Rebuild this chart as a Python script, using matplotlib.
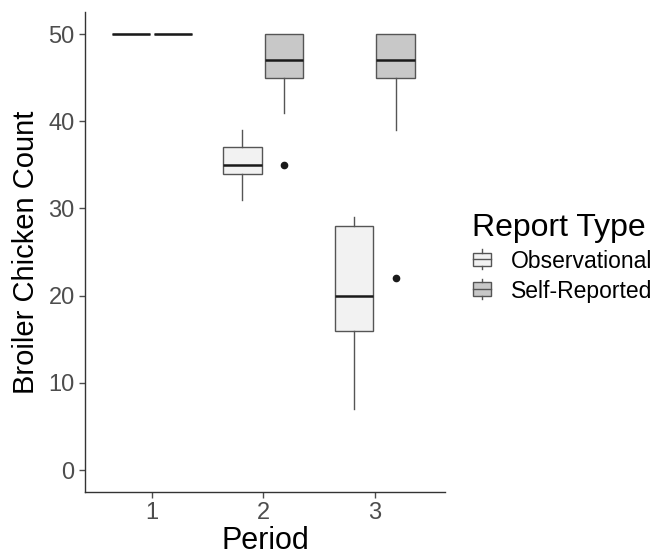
import matplotlib
matplotlib.use("Agg")
import matplotlib.pyplot as plt
from matplotlib.legend_handler import HandlerBase
from matplotlib.patches import Rectangle
from matplotlib.lines import Line2D

plt.rcParams["font.family"] = ["Liberation Sans", "DejaVu Sans"]

# Box statistics
periods = [1, 2, 3]
groups = ["Observational", "Self-Reported"]
fills = {"Observational": "#F2F2F2", "Self-Reported": "#C8C8C8"}

obs_whislo = [50, 31, 7]
obs_q1 = [50, 34, 16]
obs_med = [50, 35, 20]
obs_q3 = [50, 37, 28]
obs_whishi = [50, 39, 29]
obs_fliers = [[], [], []]

self_whislo = [50, 41, 39]
self_q1 = [50, 45, 45]
self_med = [50, 47, 47]
self_q3 = [50, 50, 50]
self_whishi = [50, 50, 50]
self_fliers = [[], [35], [22]]

y_ticks = [0, 10, 20, 30, 40, 50]


def make_stats(lo, q1, med, q3, hi, fl):
    return [dict(whislo=a, q1=b, med=c, q3=d, whishi=e, fliers=f)
            for a, b, c, d, e, f in zip(lo, q1, med, q3, hi, fl)]


fig = plt.figure(figsize=(6.7, 5.55), dpi=100)
ax = fig.add_axes([0.127, 0.1135, 0.537, 0.8645])

box_w = 0.345
offset = 0.1875
edge = "#333333"
series = [
    ("Observational", make_stats(obs_whislo, obs_q1, obs_med, obs_q3, obs_whishi, obs_fliers), -offset),
    ("Self-Reported", make_stats(self_whislo, self_q1, self_med, self_q3, self_whishi, self_fliers), offset),
]
for name, stats, off in series:
    ax.bxp(stats, positions=[p + off for p in periods], widths=box_w,
           patch_artist=True, showcaps=False,
           boxprops=dict(facecolor=fills[name], edgecolor="#555555", linewidth=1.0),
           medianprops=dict(color="#1a1a1a", linewidth=1.8),
           whiskerprops=dict(color="#555555", linewidth=1.0),
           flierprops=dict(marker="o", markerfacecolor="#1a1a1a",
                           markeredgecolor="#1a1a1a", markersize=4.5))

ax.set_xlim(0.4, 3.63)
ax.set_ylim(-2.5, 52.5)
ax.set_xticks(periods)
ax.set_xticklabels([str(p) for p in periods])
ax.set_yticks(y_ticks)
ax.tick_params(colors="#4D4D4D", labelsize=17, length=4, width=1, direction="out")
ax.spines["top"].set_visible(False)
ax.spines["right"].set_visible(False)
for s in ["left", "bottom"]:
    ax.spines[s].set_color(edge)
    ax.spines[s].set_linewidth(1.0)
ax.set_xlabel("Period", fontsize=22, color="black", labelpad=1)
ax.set_ylabel("Broiler Chicken Count", fontsize=21, color="black", labelpad=6)


class BoxHandler(HandlerBase):
    def create_artists(self, legend, orig, x0, y0, width, height, fontsize, trans):
        face = orig.get_facecolor()
        cx = x0 + width / 2
        bw = width * 0.9
        rect = Rectangle((cx - bw / 2, y0 + height * 0.1), bw, height * 0.8,
                         facecolor=face, edgecolor="#555555", linewidth=1.0, transform=trans)
        med = Line2D([cx - bw / 2, cx + bw / 2], [y0 + height / 2] * 2,
                     color="#555555", linewidth=1.0, transform=trans)
        wt = Line2D([cx, cx], [y0 + height * 0.9, y0 + height * 1.1],
                    color="#555555", linewidth=1.0, transform=trans)
        wb = Line2D([cx, cx], [y0 - height * 0.1, y0 + height * 0.1],
                    color="#555555", linewidth=1.0, transform=trans)
        return [rect, med, wt, wb]


handles = [Rectangle((0, 0), 1, 1, facecolor=fills[g]) for g in groups]
leg = fig.legend(handles, groups, handler_map={Rectangle: BoxHandler()},
                 loc="center left", bbox_to_anchor=(0.68, 0.535),
                 frameon=False, fontsize=16.5, title="Report Type", title_fontsize=23,
                 handlelength=0.9, handleheight=0.75, handletextpad=0.8,
                 labelspacing=0.3, alignment="left", borderpad=0.2)

fig.savefig("out.png", dpi=100)
